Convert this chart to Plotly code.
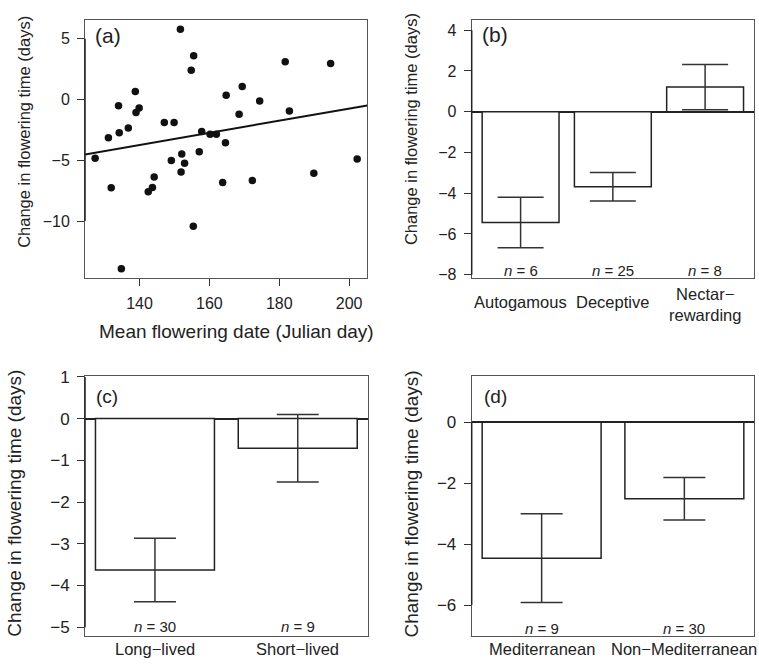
import numpy as np
import plotly.graph_objects as go

W, H = 759, 665
FONT = "Liberation Sans, Arial, Helvetica, sans-serif"
INK = "#222222"
BOX = "#555555"

# ---------------- Panel (a): scatter ----------------
mean_date = [151.7, 155.5, 154.8, 181.7, 194.7, 138.8, 169.4, 164.8, 134.0, 174.4,
             139.9, 139.0, 182.9, 168.5, 147.1, 149.9, 131.1, 134.2, 136.8, 157.8,
             160.2, 162.0, 164.6, 157.1, 152.1, 127.3, 149.1, 152.9, 202.3, 151.9,
             144.2, 189.9, 172.3, 163.8, 131.9, 143.7, 142.5, 155.4, 134.8]
change_days = [5.78, 3.60, 2.42, 3.10, 2.96, 0.67, 1.08, 0.35, -0.51, -0.13,
               -0.70, -1.07, -0.94, -1.21, -1.88, -1.88, -3.14, -2.74, -2.34, -2.63,
               -2.85, -2.85, -3.55, -4.30, -4.49, -4.84, -5.02, -5.24, -4.89, -5.97,
               -6.37, -6.07, -6.66, -6.82, -7.26, -7.23, -7.58, -10.43, -13.92]
a_xticks = [140, 160, 180, 200]
a_yticks = [5, 0, -5, -10]

# ---------------- Panel (b): pollination ----------------
pollination = ["Autogamous", "Deceptive", "Nectar-rewarding"]
pollination_labels = ["Autogamous", "Deceptive", "Nectar−<br>rewarding"]
pollination_mean = [-5.44, -3.69, 1.21]
pollination_se = [1.24, 0.70, 1.11]
pollination_n = [6, 25, 8]
b_yticks = [4, 2, 0, -2, -4, -6, -8]

# ---------------- Panel (c): life span ----------------
lifespan = ["Long-lived", "Short-lived"]
lifespan_labels = ["Long−lived", "Short−lived"]
lifespan_mean = [-3.63, -0.71]
lifespan_se = [0.76, 0.81]
lifespan_n = [30, 9]
c_yticks = [1, 0, -1, -2, -3, -4, -5]

# ---------------- Panel (d): region ----------------
region = ["Mediterranean", "Non-Mediterranean"]
region_labels = ["Mediterranean", "Non−Mediterranean"]
region_mean = [-4.46, -2.51]
region_se = [1.46, 0.70]
region_n = [9, 30]
d_yticks = [0, -2, -4, -6]

fig = go.Figure()

# regression line fitted from the data
slope, intercept = np.polyfit(mean_date, change_days, 1)
xr = np.array([124.4, 205.2])
fig.add_trace(go.Scatter(x=mean_date, y=change_days, mode="markers",
                         marker=dict(color="#111111", size=7.5),
                         xaxis="x", yaxis="y", showlegend=False))
fig.add_trace(go.Scatter(x=xr, y=intercept + slope * xr, mode="lines",
                         line=dict(color="#111111", width=2),
                         xaxis="x", yaxis="y", showlegend=False))


def bars(cats, mean, se, xa, ya, cap):
    fig.add_trace(go.Bar(
        x=cats, y=mean, xaxis=xa, yaxis=ya, showlegend=False,
        marker=dict(color="white", line=dict(color=INK, width=1.5)),
        error_y=dict(type="data", array=se, color="#333333", thickness=1.5, width=cap),
    ))


bars(pollination, pollination_mean, pollination_se, "x2", "y2", 23)
bars(lifespan, lifespan_mean, lifespan_se, "x3", "y3", 21)
bars(region, region_mean, region_se, "x4", "y4", 21)


def px_x(p):
    return p / W


def px_y(p):
    return 1 - p / H


def axis_style(fs):
    return dict(showline=True, mirror=True, linecolor=BOX, linewidth=1,
                showgrid=False, zeroline=False, ticks="outside", ticklen=7,
                tickcolor="#333333", tickwidth=1,
                tickfont=dict(family=FONT, size=fs, color="#222222"))


up, low = axis_style(16), axis_style(17)

fig.update_layout(
    width=W, height=H, margin=dict(l=0, r=0, t=0, b=0),
    paper_bgcolor="white", plot_bgcolor="white",
    bargap=1 / 6,
    font=dict(family=FONT, color="#222222"),
    xaxis=dict(up, domain=[px_x(85), px_x(367.3)], range=[124.4, 205.2],
               tickmode="array", tickvals=a_xticks, anchor="y", ticklabelstandoff=4),
    yaxis=dict(up, domain=[px_y(276), px_y(12.7)], range=[-14.7, 6.51],
               tickmode="array", tickvals=a_yticks, anchor="x", ticklabelstandoff=4),
    xaxis2=dict(up, domain=[px_x(471.7), px_x(754)], range=[-0.53, 2.53],
                ticks="", showticklabels=False, anchor="y2"),
    yaxis2=dict(up, domain=[px_y(275.3), px_y(12.7)], range=[-8.14, 4.48],
                tickmode="array", tickvals=b_yticks, anchor="x2", ticklabelstandoff=4,
                zeroline=True, zerolinecolor=INK, zerolinewidth=1.5),
    xaxis3=dict(low, domain=[px_x(85), px_x(367.7)], range=[-0.49, 1.49],
                ticks="", showticklabels=False, anchor="y3"),
    yaxis3=dict(low, domain=[px_y(641), px_y(376)], range=[-5.2, 1.02],
                tickmode="array", tickvals=c_yticks, anchor="x3", ticklabelstandoff=4,
                zeroline=True, zerolinecolor=INK, zerolinewidth=1.5),
    xaxis4=dict(low, domain=[px_x(471.7), px_x(754.3)], range=[-0.49, 1.49],
                ticks="", showticklabels=False, anchor="y4"),
    yaxis4=dict(low, domain=[px_y(641), px_y(376)], range=[-7.0, 1.52],
                tickmode="array", tickvals=d_yticks, anchor="x4", ticklabelstandoff=4,
                zeroline=True, zerolinecolor=INK, zerolinewidth=1.5),
)

# darker axis segments between first and last tick (R style)
shapes = []
for xa, ya, tv in [("x", "y", a_yticks), ("x2", "y2", b_yticks),
                   ("x3", "y3", c_yticks), ("x4", "y4", d_yticks)]:
    shapes.append(dict(type="line", xref=f"{xa} domain", x0=0, x1=0,
                       yref=ya, y0=min(tv), y1=max(tv),
                       line=dict(color=INK, width=1.5)))
fig.update_layout(shapes=shapes)

ann = []
ytitle = "Change in flowering time (days)"
for cx, cy, fs in [(24, 126.5, 16.5), (411.7, 124, 16.5), (15, 506.5, 19), (411.7, 506.5, 19)]:
    ann.append(dict(text=ytitle, xref="paper", yref="paper", x=px_x(cx), y=px_y(cy),
                    xanchor="center", yanchor="middle", textangle=-90, showarrow=False,
                    font=dict(family=FONT, size=fs)))
ann.append(dict(text="Mean flowering date (Julian day)", xref="paper", yref="paper",
                x=px_x(237), y=px_y(330), xanchor="center", yanchor="middle",
                showarrow=False, font=dict(family=FONT, size=19)))

for lab, cx, cy, fs in [("(a)", 108, 28.3, 21), ("(b)", 495, 26.7, 21),
                        ("(c)", 107, 396.7, 19), ("(d)", 495.5, 396.7, 19)]:
    ann.append(dict(text=lab, xref="paper", yref="paper", x=px_x(cx), y=px_y(cy),
                    xanchor="center", yanchor="middle", showarrow=False,
                    font=dict(family=FONT, size=fs)))

for cats, labels, ns, xa, ya, ycat, nshift in [
        (pollination, pollination_labels, pollination_n, "x2", "y2", 300, 7),
        (lifespan, lifespan_labels, lifespan_n, "x3", "y3", 655, 8.7),
        (region, region_labels, region_n, "x4", "y4", 655, 7)]:
    for c, l, n in zip(cats, labels, ns):
        ann.append(dict(text=f"<i>n</i> = {n}", xref=xa, yref=f"{ya} domain", x=c, y=0,
                        yshift=nshift, xanchor="center", yanchor="middle",
                        showarrow=False, font=dict(family=FONT, size=15)))
        yy = ycat + (2.5 if "<br>" in l else 0)
        ann.append(dict(text=l, xref=xa, yref="paper", x=c, y=px_y(yy),
                        xanchor="center", yanchor="middle", showarrow=False,
                        font=dict(family=FONT, size=16.5)))

fig.update_layout(annotations=ann)
fig.write_html("out.html", config={"displayModeBar": False},
               post_script="document.body.style.margin='0';document.body.style.overflow='hidden';")
